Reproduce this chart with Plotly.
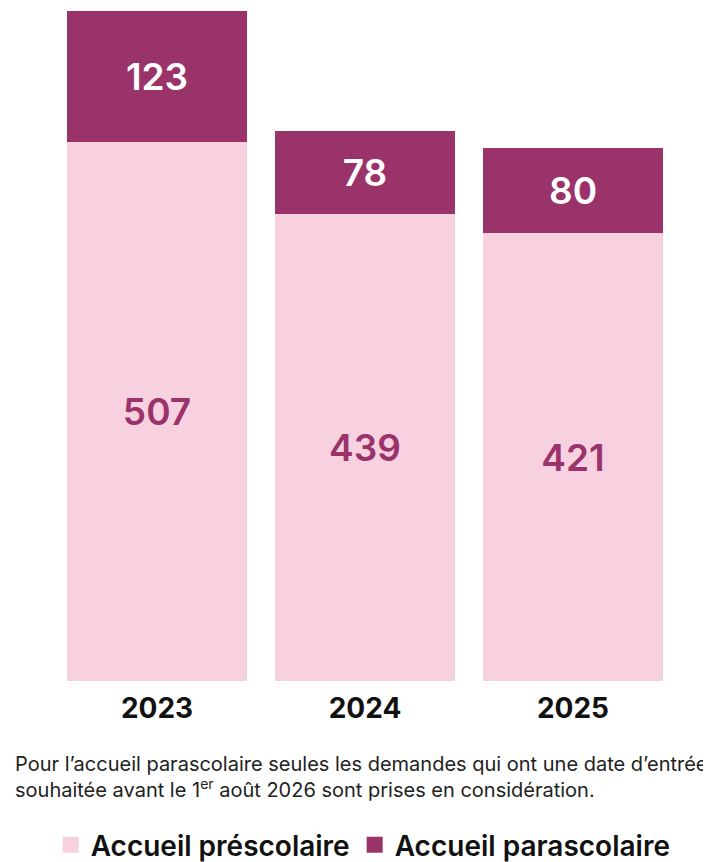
import plotly.graph_objects as go

years = ["2023", "2024", "2025"]
prescolaire = [507, 439, 421]
parascolaire = [123, 78, 80]

PINK = "#f7d1e0"
DARK = "#9b336b"
FONT = "Inter"

W, H = 711, 862
ML, MR, MT, MB = 45, 42, 3, 0
PH = H - MT - MB  # paper height
PW = W - ML - MR

fig = go.Figure()
fig.add_trace(go.Bar(
    x=years, y=prescolaire, name="Accueil préscolaire", showlegend=False,
    marker=dict(color=PINK, line=dict(width=0)),
    text=prescolaire, texttemplate="%{text}", textposition="inside",
    insidetextanchor="middle",
    textfont=dict(family=FONT, size=37, color=DARK, weight=600),
))
fig.add_trace(go.Bar(
    x=years, y=parascolaire, name="Accueil parascolaire", showlegend=False,
    marker=dict(color=DARK, line=dict(width=0)),
    text=parascolaire, texttemplate="%{text}", textposition="inside",
    insidetextanchor="middle",
    textfont=dict(family=FONT, size=37, color="white", weight=600),
))
# legend entries (square swatches)
for name, col in [("Accueil préscolaire", PINK), ("Accueil parascolaire", DARK)]:
    fig.add_trace(go.Scatter(
        x=[None], y=[None], mode="markers", name=name,
        marker=dict(symbol="square", size=22, color=col, line=dict(width=0)),
        hoverinfo="skip",
    ))

fig.update_layout(
    width=W, height=H,
    barmode="stack", bargap=0.135,
    margin=dict(l=ML, r=MR, t=MT, b=MB, pad=0),
    paper_bgcolor="white", plot_bgcolor="white",
    font=dict(family=FONT, color="#111"),
    xaxis=dict(range=[-0.5, 2.5], showline=False, showgrid=False, zeroline=False,
               ticks="", ticklabelstandoff=8,
               tickfont=dict(family=FONT, size=28, color="#111", weight=700)),
    yaxis=dict(range=[0, 630], visible=False, domain=[189 / PH, 1]),
    legend=dict(orientation="h", x=0.497, xanchor="center", y=25 / PH, yanchor="middle",
                font=dict(family=FONT, size=28, color="#111", weight=600),
                itemsizing="trace", itemwidth=30, traceorder="normal"),
    annotations=[dict(
        text="Pour l’accueil parascolaire seules les demandes qui ont une date d’entrée<br>souhaitée avant le 1<sup>er</sup> août 2026 sont prises en considération.",
        xref="paper", yref="paper", x=-40 / PW, y=(H - 742) / PH,
        xanchor="left", yanchor="top",
        showarrow=False, align="left",
        font=dict(family=FONT, size=20, color="#222"),
    )],
)

fig.write_html("out.html")
